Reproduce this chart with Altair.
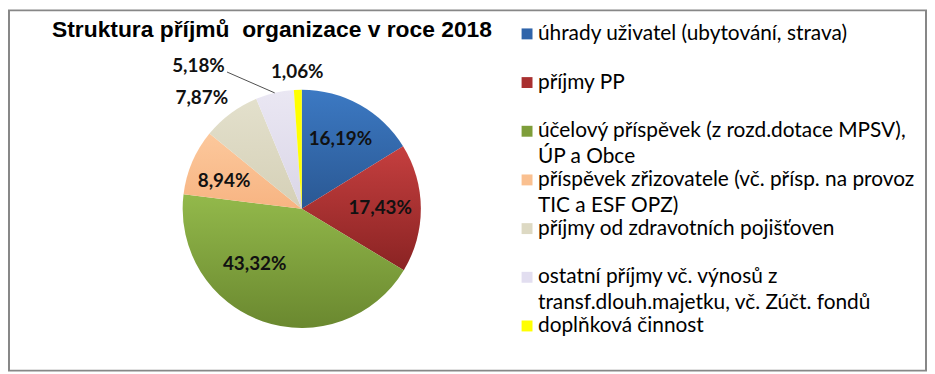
import math
import altair as alt
import pandas as pd

# ---------------- data ----------------
categories = [
    "úhrady uživatel (ubytování, strava)",
    "příjmy PP",
    "účelový příspěvek (z rozd.dotace MPSV), ÚP a Obce",
    "příspěvek zřizovatele (vč. přísp. na provoz TIC a ESF OPZ)",
    "příjmy od zdravotních pojišťoven",
    "ostatní příjmy vč. výnosů z transf.dlouh.majetku, vč. Zúčt. fondů",
    "doplňková činnost",
]
values = [16.19, 17.43, 43.32, 8.94, 7.87, 5.18, 1.06]
legend_line1 = [
    "úhrady uživatel (ubytování, strava)",
    "příjmy PP",
    "účelový příspěvek (z rozd.dotace MPSV),",
    "příspěvek zřizovatele (vč. přísp. na provoz",
    "příjmy od zdravotních pojišťoven",
    "ostatní příjmy vč. výnosů z",
    "doplňková činnost",
]
legend_line2 = ["", "", "ÚP a Obce", "TIC a ESF OPZ)", "", "transf.dlouh.majetku, vč. Zúčt. fondů", ""]
title_text = "Struktura příjmů\u00a0 organizace v roce 2018"

# ---------------- styles ----------------
solid_colors = ["#2f64aa", "#a93030", "#7e9e3a", "#fac090", "#ddd9c3", "#e2def0", "#ffff00"]
grad_colors = [
    ("#3c79c3", "#2a5893"),
    ("#c53f3f", "#8a2323"),
    ("#93b94b", "#6a882f"),
    ("#fcc89c", "#f7b482"),
    ("#e3e0cc", "#d5d0b7"),
    ("#eae7f3", "#dad6e7"),
    ("#ffff00", "#ffff00"),
]
# label placement: radius, dx, dy
label_place = [(80, 0, 0), (79, 0, 0), (78, -22, -18), (83, -2, 5), (152, -10, 10), (150, -70, 2), (138, 0, 0)]

CX, CY, R = 295, 200, 120
total = sum(values)
LABEL_FONT = "Lato"
TITLE_FONT = "Liberation Sans"

df = pd.DataFrame({
    "category": categories,
    "value": values,
    "order": list(range(len(values))),
    "label": [f"{v:.2f}".replace(".", ",") + "%" for v in values],
    "line1": legend_line1,
    "line2": legend_line2,
})

theta_scale = alt.Scale(domain=[0, total], range=[0, 2 * math.pi])


def base():
    return (
        alt.Chart(df)
        .transform_window(cum="sum(value)", sort=[alt.SortField("order")])
        .transform_calculate(start="datum.cum - datum.value", mid="datum.cum - datum.value / 2")
    )


layers = []
for i in range(len(values)):
    top, bottom = grad_colors[i]
    grad = alt.LinearGradient(
        gradient="linear",
        stops=[alt.GradientStop(color=top, offset=0), alt.GradientStop(color=bottom, offset=1)],
        x1=0, x2=0, y1=0, y2=1,
    )
    layers.append(
        base()
        .transform_filter(alt.datum.order == i)
        .mark_arc(outerRadius=R, color=grad)
        .encode(
            theta=alt.Theta("start:Q", scale=theta_scale, stack=None),
            theta2=alt.Theta2("cum:Q"),
            x=alt.value(CX),
            y=alt.value(CY),
        )
    )

# leader line for the 5,18 % slice
leader = (
    base()
    .transform_filter(alt.datum.order == 5)
    .transform_calculate(
        ex=f"{CX} + {R} * sin(2 * PI * datum.mid / {total})",
        ey=f"{CY} - {R} * cos(2 * PI * datum.mid / {total})",
    )
    .transform_calculate(sx="datum.ex - 48", sy="datum.ey - 21")
    .mark_rule(color="#222222", strokeWidth=0.8)
    .encode(
        x=alt.X("sx:Q", scale=None),
        x2="ex:Q",
        y=alt.Y("sy:Q", scale=None),
        y2="ey:Q",
    )
)

labels = []
for i, (r, dx, dy) in enumerate(label_place):
    labels.append(
        base()
        .transform_filter(alt.datum.order == i)
        .mark_text(font=LABEL_FONT, fontSize=19, fontWeight="bold", color="#111111",
                   align="center", baseline="middle", dx=dx, dy=dy)
        .encode(
            theta=alt.Theta("mid:Q", scale=theta_scale, stack=None),
            radius=alt.value(r),
            x=alt.value(CX),
            y=alt.value(CY),
            text="label:N",
        )
    )

ypos = alt.Y("category:N", sort=categories, scale=alt.Scale(range=[23.7, 318], padding=0), axis=None)
legend_sq = (
    alt.Chart(df)
    .mark_square(size=121, opacity=1, filled=True)
    .encode(
        x=alt.value(522),
        y=ypos,
        color=alt.Color("category:N", sort=categories,
                        scale=alt.Scale(domain=categories, range=solid_colors), legend=None),
    )
)
legend_t1 = (
    alt.Chart(df)
    .mark_text(font=LABEL_FONT, fontSize=21, align="left", baseline="middle", color="#000000")
    .encode(x=alt.value(533), y=ypos, text="line1:N")
)
legend_t2 = (
    alt.Chart(df)
    .mark_text(font=LABEL_FONT, fontSize=21, align="left", baseline="middle", color="#000000", dy=26)
    .encode(x=alt.value(533), y=ypos, text="line2:N")
)

title = (
    alt.Chart(pd.DataFrame({"t": [title_text]}))
    .mark_text(font=TITLE_FONT, fontSize=23, fontWeight="bold", align="center",
               baseline="alphabetic", color="#000000")
    .encode(x=alt.value(265), y=alt.value(26.5), text="t:N")
)

chart = (
    alt.layer(*layers, leader, *labels, legend_sq, legend_t1, legend_t2, title)
    .resolve_scale(x="independent", y="independent")
    .properties(width=924, height=363, padding=1, autosize=alt.AutoSizeParams(type="none"),
                background="#ffffff")
    .configure_view(stroke="#878787", strokeWidth=2)
)

chart.save("out.html", embed_options={"renderer": "svg", "actions": False})
